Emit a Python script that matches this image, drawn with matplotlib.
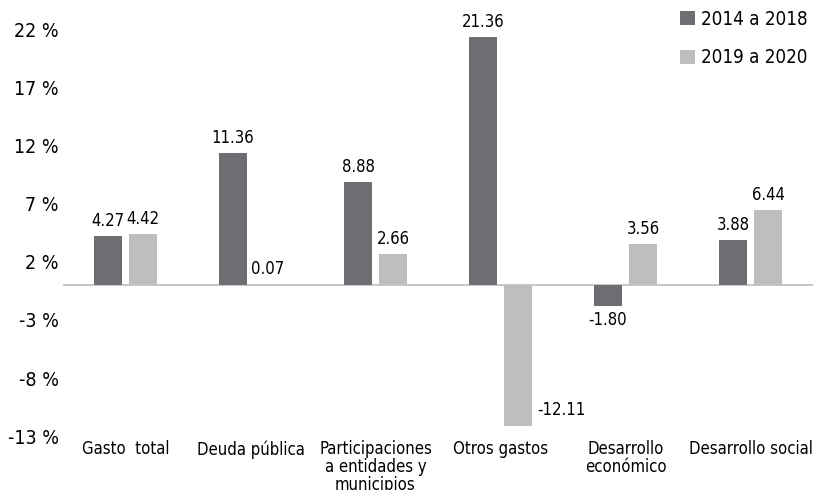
import matplotlib.pyplot as plt

plt.rcParams['font.family'] = ['DejaVu Sans']
plt.rcParams['font.stretch'] = 'condensed'

categories = ['Gasto  total', 'Deuda pública', 'Participaciones\na entidades y\nmunicipios',
              'Otros gastos', 'Desarrollo\neconómico', 'Desarrollo social']
series_names = ['2014 a 2018', '2019 a 2020']
vals_1418 = [4.27, 11.36, 8.88, 21.36, -1.80, 3.88]
vals_1920 = [4.42, 0.07, 2.66, -12.11, 3.56, 6.44]
yticks = [-13, -8, -3, 2, 7, 12, 17, 22]

DARK = '#6d6e71'
LIGHT = '#bcbec0'

fig = plt.figure(figsize=(8.16, 4.9), dpi=100)
ax = fig.add_axes([0.0772, 0.1102, 0.9191, 0.8286])

x = list(range(len(categories)))
w = 0.224
off = 0.14
b1 = ax.bar([i - off for i in x], vals_1418, w, color=DARK, label=series_names[0])
b2 = ax.bar([i + off for i in x], vals_1920, w, color=LIGHT, label=series_names[1])

ax.axhline(0, color=LIGHT, lw=1.2, zorder=0)
ax.set_xlim(-0.5, 5.5)
ax.set_ylim(-13, 22)
ax.set_yticks(yticks)
ax.set_yticklabels(['%d %%' % t for t in yticks], fontsize=14)
ax.set_xticks(x)
ax.set_xticklabels(categories, fontsize=12, linespacing=1.0, va='top')
ax.tick_params(length=0, pad=3)
for s in ax.spines.values():
    s.set_visible(False)


def label(bars, vals):
    for b, v in zip(bars, vals):
        cx = b.get_x() + b.get_width() / 2
        txt = '%.2f' % v
        if v < -5:
            ax.annotate(txt, (b.get_x() + b.get_width(), v), xytext=(5, 16),
                        textcoords='offset pixels', ha='left', va='center', fontsize=12)
        elif v < 0:
            ax.annotate(txt, (cx, v), xytext=(0, -14), textcoords='offset pixels',
                        ha='center', va='center', fontsize=12)
        else:
            ax.annotate(txt, (cx, v), xytext=(0, 15), textcoords='offset pixels',
                        ha='center', va='center', fontsize=12, annotation_clip=False)


label(b1, vals_1418)
label(b2, vals_1920)

ax.legend(loc='upper right', bbox_to_anchor=(0.993, 1.05), frameon=False, fontsize=13.5,
          handlelength=0.8, handleheight=0.8, handletextpad=0.3, labelspacing=1.05,
          borderpad=0, borderaxespad=0)

fig.savefig('out.png', dpi=100)
